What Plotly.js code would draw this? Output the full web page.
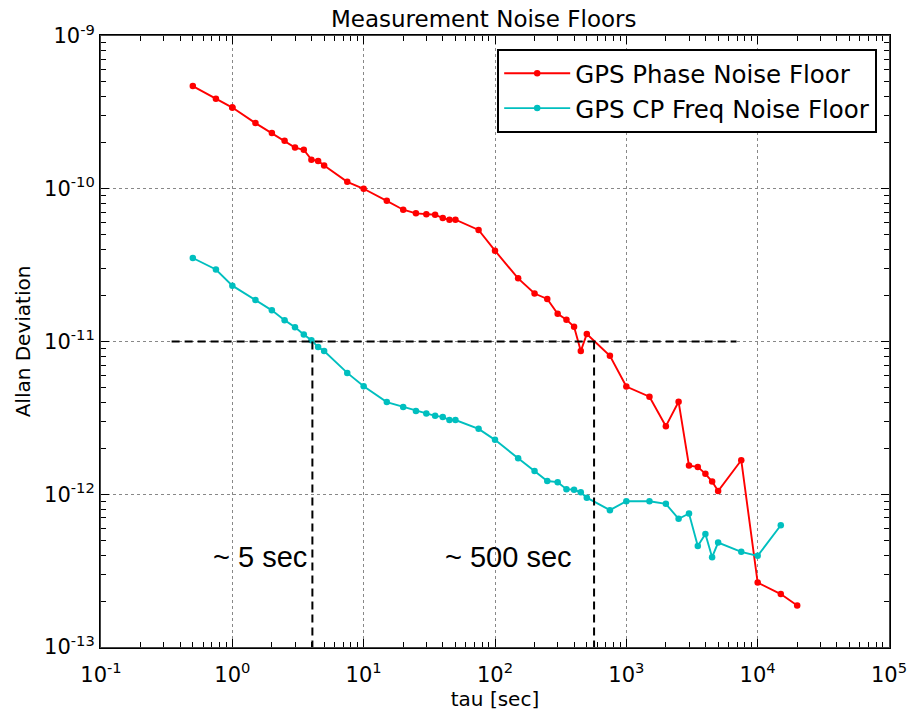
<!DOCTYPE html>
<html>
<head>
<meta charset="utf-8">
<script src="https://cdn.plot.ly/plotly-3.0.1.min.js"></script>
<style>html,body{margin:0;padding:0;background:#fff;}#chart{width:911px;height:714px;}</style>
</head>
<body>
<div id="chart"></div>
<script>
// ---- data ----
const tauPhase = [0.5,0.75,1,1.5,2,2.5,3,3.5,4,4.5,5,7.5,10,15,20,25,30,35,40,45,50,75,100,150,200,250,300,350,400,450,500,750,1000,1500,2000,2500,3000,3500,4000,4500,5000,7500,10000,15000,20000];
const adevPhase = [4.7e-10,3.88e-10,3.4e-10,2.69e-10,2.32e-10,2.06e-10,1.86e-10,1.80e-10,1.55e-10,1.52e-10,1.42e-10,1.11e-10,1.0e-10,8.34e-11,7.29e-11,6.9e-11,6.8e-11,6.76e-11,6.43e-11,6.27e-11,6.27e-11,5.37e-11,3.93e-11,2.59e-11,2.06e-11,1.9e-11,1.52e-11,1.39e-11,1.25e-11,8.65e-12,1.12e-11,8.06e-12,5.07e-12,4.35e-12,2.79e-12,4.03e-12,1.54e-12,1.51e-12,1.36e-12,1.21e-12,1.05e-12,1.67e-12,2.64e-13,2.22e-13,1.87e-13];

const tauFreq = [0.5,0.75,1,1.5,2,2.5,3,3.5,4,4.5,5,7.5,10,15,20,25,30,35,40,45,50,75,100,150,200,250,300,350,400,450,500,750,1000,1500,2000,2500,3000,3500,4000,4500,5000,7500,10000,15000];
const adevFreq = [3.52e-11,2.96e-11,2.32e-11,1.87e-11,1.60e-11,1.38e-11,1.24e-11,1.11e-11,1.02e-11,9.19e-12,8.65e-12,6.23e-12,5.1e-12,4.01e-12,3.72e-12,3.51e-12,3.38e-12,3.26e-12,3.21e-12,3.06e-12,3.06e-12,2.68e-12,2.27e-12,1.72e-12,1.42e-12,1.22e-12,1.2e-12,1.08e-12,1.07e-12,1.03e-12,9.5e-13,7.87e-13,9.01e-13,9.0e-13,8.65e-13,6.9e-13,7.48e-13,4.59e-13,5.5e-13,3.87e-13,4.83e-13,4.2e-13,3.95e-13,6.27e-13];

const seriesNames = ["GPS Phase Noise Floor", "GPS CP Freq Noise Floor"];
const xTickVals = [1e-1, 1e0, 1e1, 1e2, 1e3, 1e4, 1e5];
const xTickText = ["10<sup>-1</sup>","10<sup>0</sup>","10<sup>1</sup>","10<sup>2</sup>","10<sup>3</sup>","10<sup>4</sup>","10<sup>5</sup>"];
const yTickVals = [1e-13, 1e-12, 1e-11, 1e-10, 1e-9];
const yTickText = ["10<sup>-13</sup>","10<sup>-12</sup>","10<sup>-11</sup>","10<sup>-10</sup>","10<sup>-9</sup>"];
const refLevel = 1e-11;            // horizontal guide level
const guideSpan = [0.345, 6900];   // tau extent of horizontal guide
const crossTau = [4.07, 568];      // tau where each series crosses refLevel
const axisFloor = 1e-13;
const crossLabels = ["~ 5 sec", "~ 500 sec"];
const labelTau = [1.62, 127];
const labelAdev = [3.9e-13, 3.9e-13];

// minor tick positions (2..9 x each decade)
function minorVals(lo, hi) {
  const v = [];
  for (let e = lo; e < hi; e++) for (let m = 2; m <= 9; m++) v.push(m * Math.pow(10, e));
  return v;
}
const xMinor = minorVals(-1, 5);
const yMinor = minorVals(-13, -9);

const traces = [
  {x: tauPhase, y: adevPhase, name: seriesNames[0], mode: 'lines+markers',
   line: {color: '#ff0000', width: 1.9}, marker: {color: '#ff0000', size: 6.5}},
  {x: tauFreq, y: adevFreq, name: seriesNames[1], mode: 'lines+markers',
   line: {color: '#00bfbf', width: 1.9}, marker: {color: '#00bfbf', size: 6.5}},
  {x: guideSpan, y: [refLevel, refLevel], mode: 'lines', showlegend: false, hoverinfo: 'skip',
   line: {color: '#000', width: 2, dash: '8px,5px'}},
  {x: [crossTau[0], crossTau[0]], y: [refLevel, axisFloor], mode: 'lines', showlegend: false, hoverinfo: 'skip',
   line: {color: '#000', width: 2, dash: '8px,5px'}},
  {x: [crossTau[1], crossTau[1]], y: [refLevel, axisFloor], mode: 'lines', showlegend: false, hoverinfo: 'skip',
   line: {color: '#000', width: 2, dash: '8px,5px'}},
  // carrier on the minor-tick overlay axes: repeats one red point exactly on top of itself
  {x: [tauPhase[2]], y: [adevPhase[2]], xaxis: 'x2', yaxis: 'y2', mode: 'markers',
   marker: {color: '#ff0000', size: 6.5}, showlegend: false, hoverinfo: 'skip'}
];

const axisCommon = {
  type: 'log', showline: true, linecolor: '#000', linewidth: 2, mirror: 'ticks',
  ticks: 'inside', ticklen: 8, tickwidth: 1, tickcolor: '#000',
  showgrid: true, gridcolor: '#888', griddash: 'dot', gridwidth: 1,
  tickmode: 'array', zeroline: false
};

const layout = {
  width: 911, height: 714,
  margin: {l: 101, r: 22, t: 36, b: 67},
  paper_bgcolor: '#fff', plot_bgcolor: '#fff',
  title: {text: 'Measurement Noise Floors', font: {family: 'DejaVu Sans', size: 23, color: '#000'},
          xref: 'container', x: 0.531, xanchor: 'center', yref: 'container', y: 0.974, yanchor: 'middle'},
  xaxis: Object.assign({}, axisCommon, {
    range: [-1, 5], tickvals: xTickVals, ticktext: xTickText, ticklabelstandoff: 8,
    tickfont: {family: 'DejaVu Sans', size: 21, color: '#000'},
    title: {text: 'tau [sec]', font: {family: 'DejaVu Sans', size: 20, color: '#000'}, standoff: 4}
  }),
  yaxis: Object.assign({}, axisCommon, {
    range: [-13, -9], tickvals: yTickVals, ticktext: yTickText,
    tickfont: {family: 'DejaVu Sans', size: 21, color: '#000'},
    title: {text: 'Allan Deviation', font: {family: 'DejaVu Sans', size: 20, color: '#000'}, standoff: 8}
  }),
  xaxis2: {type: 'log', overlaying: 'x', anchor: 'y', range: [-1, 5], tickmode: 'array',
           tickvals: xMinor, ticktext: xMinor.map(() => ''),
           ticks: 'inside', ticklen: 5, tickcolor: '#000', showline: true, mirror: 'ticks',
           showticklabels: true, showgrid: false},
  yaxis2: {type: 'log', overlaying: 'y', anchor: 'x', range: [-13, -9], tickmode: 'array',
           tickvals: yMinor, ticktext: yMinor.map(() => ''),
           ticks: 'inside', ticklen: 5, tickcolor: '#000', showline: true, mirror: 'ticks',
           showticklabels: true, showgrid: false},
  legend: {
    x: 0.985, y: 0.979, xanchor: 'right', yanchor: 'top',
    bgcolor: '#fff', bordercolor: '#000', borderwidth: 2, itemwidth: 66,
    font: {family: 'DejaVu Sans', size: 24.5, color: '#000'}
  },
  annotations: crossLabels.map((t, i) => ({
    x: Math.log10(labelTau[i]), y: Math.log10(labelAdev[i]), xref: 'x', yref: 'y',
    text: t, showarrow: false, xanchor: 'center',
    font: {family: 'Liberation Sans', size: 29, color: '#000'}
  })),
  showlegend: true
};

Plotly.newPlot('chart', traces, layout, {displayModeBar: false, staticPlot: true});
</script>
</body>
</html>
